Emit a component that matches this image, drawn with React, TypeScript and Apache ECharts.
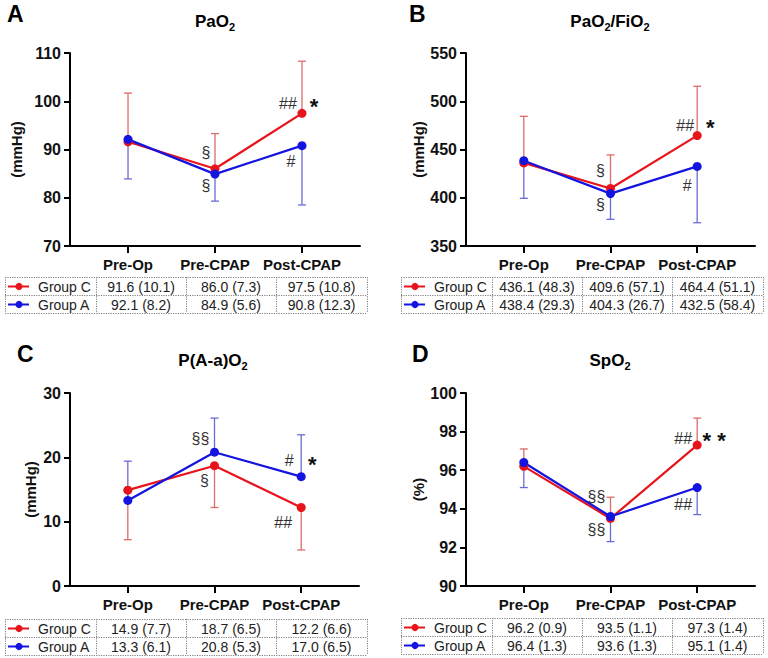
import React, { useEffect, useRef } from 'react';
import * as echarts from 'echarts';

// ---------- data ----------
const timepoints = ['Pre-Op', 'Pre-CPAP', 'Post-CPAP'];
const groupNames = ['Group C', 'Group A'];

// A: PaO2 (mmHg)
const pao2MeanC = [91.6, 86.0, 97.5];
const pao2SdC = [10.1, 7.3, 10.8];
const pao2MeanA = [92.1, 84.9, 90.8];
const pao2SdA = [8.2, 5.6, 12.3];
const pao2BarC = [10.1, 7.3, 10.8];
const pao2BarA = [8.2, 5.6, 12.3];
const pao2Axis = [70, 110, 10];
const pao2Marks = [
  { g: 0, i: 1, t: '§' },
  { g: 1, i: 1, t: '§' },
  { g: 0, i: 2, t: '##' },
  { g: 0, i: 2, t: '*' },
  { g: 1, i: 2, t: '#' },
];

// B: PaO2/FiO2 (mmHg)
const pfMeanC = [436.1, 409.6, 464.4];
const pfSdC = [48.3, 57.1, 51.1];
const pfMeanA = [438.4, 404.3, 432.5];
const pfSdA = [29.3, 26.7, 58.4];
const pfBarC = [48.3, 34.8, 51.1];
const pfBarA = [39.0, 26.7, 58.4];
const pfAxis = [350, 550, 50];
const pfMarks = [
  { g: 0, i: 1, t: '§' },
  { g: 1, i: 1, t: '§' },
  { g: 0, i: 2, t: '##' },
  { g: 0, i: 2, t: '*' },
  { g: 1, i: 2, t: '#' },
];

// C: P(A-a)O2 (mmHg)
const aaMeanC = [14.9, 18.7, 12.2];
const aaSdC = [7.7, 6.5, 6.6];
const aaMeanA = [13.3, 20.8, 17.0];
const aaSdA = [6.1, 5.3, 6.5];
const aaBarC = [7.7, 6.5, 6.6];
const aaBarA = [6.1, 5.3, 6.5];
const aaAxis = [0, 30, 10];
const aaMarks = [
  { g: 1, i: 1, t: '§§' },
  { g: 0, i: 1, t: '§' },
  { g: 1, i: 2, t: '#' },
  { g: 1, i: 2, t: '*' },
  { g: 0, i: 2, t: '##' },
];

// D: SpO2 (%)
const spMeanC = [96.2, 93.5, 97.3];
const spSdC = [0.9, 1.1, 1.4];
const spMeanA = [96.4, 93.6, 95.1];
const spSdA = [1.3, 1.3, 1.4];
const spBarC = [0.9, 1.1, 1.4];
const spBarA = [1.3, 1.3, 1.4];
const spAxis = [90, 100, 2];
const spMarks = [
  { g: 0, i: 1, t: '§§' },
  { g: 1, i: 1, t: '§§' },
  { g: 0, i: 2, t: '##' },
  { g: 0, i: 2, t: '* *' },
  { g: 1, i: 2, t: '##' },
];

// ---------- layout / style ----------
const FONT = 'Arial, "Liberation Sans", Helvetica, sans-serif';
const RED = '#e8141c';
const BLUE = '#1414e0';
const RED_BAR = '#de6b6b';
const BLUE_BAR = '#6b6bd6';

const panels = [
  {
    letter: 'A', title: '{b|PaO}{s|2}', unit: '(mmHg)', nameGap: 46,
    grid: { left: 70, top: 53, width: 290, height: 193 },
    letterPos: [7, 14], titlePos: [215, 21], table: [5, 277],
    meanC: pao2MeanC, sdC: pao2SdC, meanA: pao2MeanA, sdA: pao2SdA,
    barC: pao2BarC, barA: pao2BarA, axis: pao2Axis, dirC: 1, dirA: -1,
    marks: pao2Marks,
    offsets: [[-9, -16], [-9, 11], [-14, -10], [12, -12], [-11, 16]],
  },
  {
    letter: 'B', title: '{b|PaO}{s|2}{b|/FiO}{s|2}', unit: '(mmHg)', nameGap: 39,
    grid: { left: 466, top: 53, width: 289, height: 193 },
    letterPos: [409, 14], titlePos: [610, 21], table: [401, 277],
    meanC: pfMeanC, sdC: pfSdC, meanA: pfMeanA, sdA: pfSdA,
    barC: pfBarC, barA: pfBarA, axis: pfAxis, dirC: 1, dirA: -1,
    marks: pfMarks,
    offsets: [[-10, -18], [-10, 11], [-12, -10], [13, -13], [-10, 19]],
  },
  {
    letter: 'C', title: '{b|P(A-a)O}{s|2}', unit: '(mmHg)', nameGap: 32,
    grid: { left: 70, top: 393, width: 289, height: 193 },
    letterPos: [17, 354], titlePos: [213, 360], table: [5, 619],
    meanC: aaMeanC, sdC: aaSdC, meanA: aaMeanA, sdA: aaSdA,
    barC: aaBarC, barA: aaBarA, axis: aaAxis, dirC: -1, dirA: 1,
    marks: aaMarks,
    offsets: [[-14, -14], [-10, 15], [-12, -16], [11, -17], [-18, 15]],
  },
  {
    letter: 'D', title: '{b|SpO}{s|2}', unit: '(%)', nameGap: 40,
    grid: { left: 466, top: 393, width: 289, height: 193 },
    letterPos: [412, 354], titlePos: [610, 360], table: [401, 618],
    meanC: spMeanC, sdC: spSdC, meanA: spMeanA, sdA: spSdA,
    barC: spBarC, barA: spBarA, axis: spAxis, dirC: 1, dirA: -1,
    marks: spMarks,
    offsets: [[-14, -22], [-14, 13], [-14, -7], [17, -10], [-14, 17]],
  },
];

function tableGraphics(x0: number, y0: number, mC: number[], sC: number[], mA: number[], sA: number[]) {
  const cols = [91, 90, 90, 91];
  const rowH = 18;
  const edges = [x0];
  cols.forEach((w) => edges.push(edges[edges.length - 1] + w));
  const W = edges[4] - x0;
  const dash = { stroke: '#808080', lineWidth: 1, lineDash: [1.2, 1.2] };
  const els: any[] = [];
  for (let r = 0; r <= 2; r++) {
    const y = y0 + r * rowH + 0.5;
    els.push({ type: 'line', silent: true, shape: { x1: x0, y1: y, x2: x0 + W, y2: y }, style: dash });
  }
  edges.forEach((x) => {
    els.push({ type: 'line', silent: true, shape: { x1: x + 0.5, y1: y0, x2: x + 0.5, y2: y0 + 2 * rowH }, style: dash });
  });
  const rows: [number[], number[], string][] = [[mC, sC, RED], [mA, sA, BLUE]];
  rows.forEach(([m, s, col], r) => {
    const cy = y0 + r * rowH + rowH / 2 + 0.5;
    els.push({ type: 'line', silent: true, shape: { x1: x0 + 3, y1: cy, x2: x0 + 24, y2: cy }, style: { stroke: col, lineWidth: 2 } });
    els.push({ type: 'circle', silent: true, shape: { cx: x0 + 14, cy, r: 3.6 }, style: { fill: col } });
    els.push({
      type: 'text', silent: true, x: x0 + 33, y: cy,
      style: { text: groupNames[r], font: `14px ${FONT}`, fill: '#222', align: 'left', verticalAlign: 'middle' },
    });
    for (let k = 0; k < 3; k++) {
      els.push({
        type: 'text', silent: true, x: (edges[k + 1] + edges[k + 2]) / 2, y: cy,
        style: { text: `${m[k].toFixed(1)} (${s[k].toFixed(1)})`, font: `14px ${FONT}`, fill: '#222', align: 'center', verticalAlign: 'middle' },
      });
    }
  });
  return els;
}

function errorBarSeries(p: number, means: number[], bars: number[], dir: number, color: string) {
  return {
    type: 'custom',
    xAxisIndex: p, yAxisIndex: p,
    silent: true,
    z: 2,
    encode: { x: 0, y: 1 },
    data: means.map((m, i) => [i, m, bars[i], dir]),
    renderItem: (_params: any, api: any) => {
      const x = api.value(0);
      const m = api.value(1);
      const e = api.value(2);
      const d = api.value(3);
      const p0 = api.coord([x, m]);
      const p1 = api.coord([x, m + d * e]);
      const st = { stroke: color, lineWidth: 1.3 };
      return {
        type: 'group',
        children: [
          { type: 'line', shape: { x1: p0[0], y1: p0[1], x2: p1[0], y2: p1[1] }, style: st },
          { type: 'line', shape: { x1: p1[0] - 4, y1: p1[1], x2: p1[0] + 4, y2: p1[1] }, style: st },
        ],
      };
    },
  };
}

function lineSeries(p: number, means: number[], color: string, name: string) {
  return {
    type: 'line', name,
    xAxisIndex: p, yAxisIndex: p,
    z: 3,
    data: means.map((m, i) => [i, m]),
    symbol: 'circle', symbolSize: 9,
    lineStyle: { color, width: 2.2 },
    itemStyle: { color },
  };
}

function markSeries(p: number, panel: any) {
  const meansBy = [panel.meanC, panel.meanA];
  return {
    type: 'custom',
    xAxisIndex: p, yAxisIndex: p,
    silent: true, z: 5,
    encode: { x: 0, y: 1 },
    data: panel.marks.map((mk: any) => [mk.i, meansBy[mk.g][mk.i]]),
    renderItem: (params: any, api: any) => {
      const mk = panel.marks[params.dataIndex];
      const off = panel.offsets[params.dataIndex];
      const pt = api.coord([api.value(0), api.value(1)]);
      const star = mk.t.indexOf('*') >= 0;
      return {
        type: 'text',
        x: pt[0] + off[0],
        y: pt[1] + off[1] + (star ? 5 : 0),
        style: {
          text: mk.t,
          font: star ? `bold 22px ${FONT}` : `16px ${FONT}`,
          fill: star ? '#111' : '#333',
          align: 'center', verticalAlign: 'middle',
        },
      };
    },
  };
}

export default function App() {
  const ref = useRef<HTMLDivElement>(null);
  useEffect(() => {
    if (!ref.current) return;
    const chart = echarts.init(ref.current, undefined, { renderer: 'svg' });

    const grids: any[] = [];
    const xAxes: any[] = [];
    const yAxes: any[] = [];
    const series: any[] = [];
    const graphics: any[] = [];

    panels.forEach((pn, p) => {
      grids.push({ ...pn.grid, containLabel: false });
      xAxes.push({
        type: 'value', gridIndex: p, min: -0.667, max: 2.667,
        splitLine: { show: false },
        axisLine: { show: true, onZero: false, lineStyle: { color: '#000', width: 2 } },
        axisTick: { show: true, customValues: [0, 1, 2], length: 7, lineStyle: { color: '#000', width: 2 } },
        axisLabel: {
          customValues: [0, 1, 2],
          formatter: (v: number) => timepoints[Math.round(v)],
          margin: 11, fontSize: 15, fontWeight: 'bold', fontFamily: FONT, color: '#111',
        },
      });
      yAxes.push({
        type: 'value', gridIndex: p,
        min: pn.axis[0], max: pn.axis[1], interval: pn.axis[2],
        splitLine: { show: false },
        axisLine: { show: true, onZero: false, lineStyle: { color: '#000', width: 2 } },
        axisTick: { show: true, length: 6, lineStyle: { color: '#000', width: 2 } },
        axisLabel: { margin: 9, fontSize: 16, fontWeight: 'bold', fontFamily: FONT, color: '#111' },
        name: pn.unit, nameLocation: 'middle', nameRotate: 90, nameGap: pn.nameGap,
        nameTextStyle: { fontSize: 15, fontWeight: 'bold', fontFamily: FONT, color: '#111' },
      });
      series.push(errorBarSeries(p, pn.meanC, pn.barC, pn.dirC, RED_BAR));
      series.push(errorBarSeries(p, pn.meanA, pn.barA, pn.dirA, BLUE_BAR));
      series.push(lineSeries(p, pn.meanC, RED, groupNames[0]));
      series.push(lineSeries(p, pn.meanA, BLUE, groupNames[1]));
      series.push(markSeries(p, pn));

      graphics.push({
        type: 'text', silent: true, x: pn.letterPos[0], y: pn.letterPos[1],
        style: { text: pn.letter, font: `bold 23px ${FONT}`, fill: '#000', align: 'left', verticalAlign: 'middle' },
      });
      graphics.push({
        type: 'text', silent: true, x: pn.titlePos[0], y: pn.titlePos[1],
        style: {
          text: pn.title, align: 'center', verticalAlign: 'middle',
          rich: {
            b: { fontSize: 17, fontWeight: 'bold', fontFamily: FONT, fill: '#000', lineHeight: 22 },
            s: { fontSize: 11, fontWeight: 'bold', fontFamily: FONT, fill: '#000', lineHeight: 11, verticalAlign: 'bottom' },
          },
        },
      });
      graphics.push(...tableGraphics(pn.table[0], pn.table[1], pn.meanC, pn.sdC, pn.meanA, pn.sdA));
    });

    chart.setOption({
      animation: false,
      backgroundColor: '#fff',
      grid: grids,
      xAxis: xAxes,
      yAxis: yAxes,
      series,
      graphic: graphics,
    });
    return () => chart.dispose();
  }, []);

  return <div ref={ref} style={{ position: 'fixed', left: 0, top: 0, width: 768, height: 658 }} />;
}
